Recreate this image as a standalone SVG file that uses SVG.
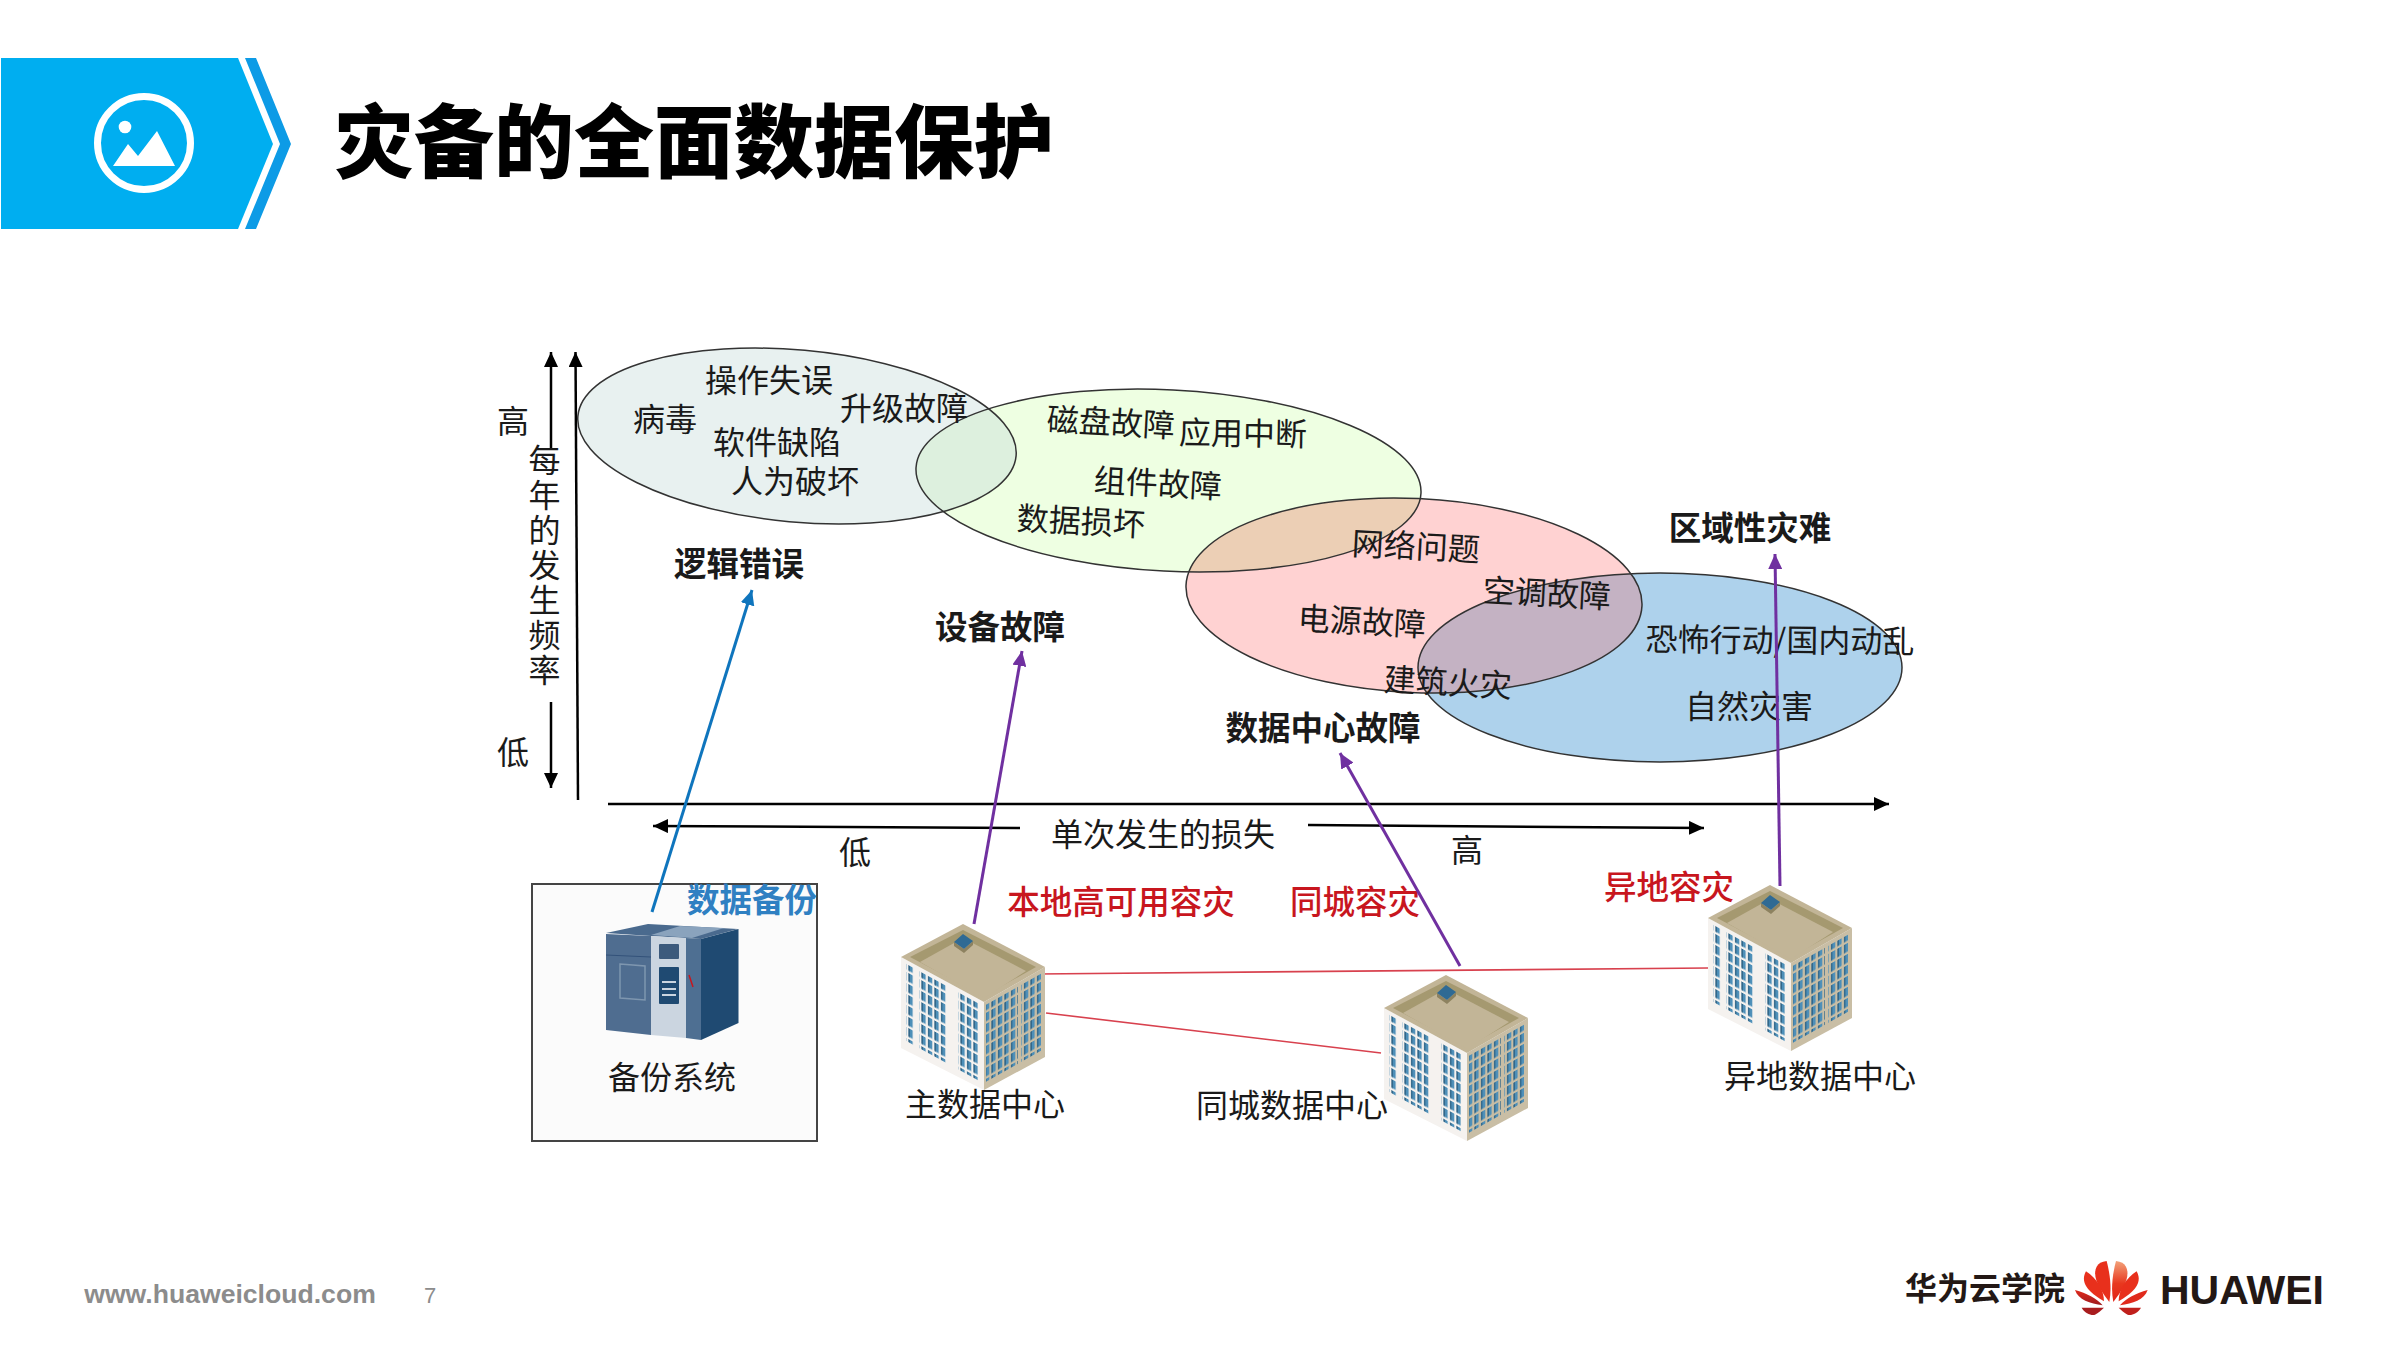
<svg xmlns="http://www.w3.org/2000/svg" xmlns:xlink="http://www.w3.org/1999/xlink" width="2401" height="1350" viewBox="0 0 2401 1350">
<style>
text{font-family:"Noto Sans CJK SC","Liberation Sans",sans-serif;dominant-baseline:central;text-anchor:middle;fill:#1a1a1a}
.r{font-size:32px;font-weight:400}
.b{font-size:32.5px;font-weight:700}
.red{font-size:32.5px;font-weight:500;fill:#c8161e}
.e{stroke:#333;stroke-width:1.5;fill:none}
.ax{stroke:#000;stroke-width:2.5;fill:none}
.rl{stroke:#d8414e;stroke-width:1.6;fill:none}
</style>
<defs>
<marker id="hk" markerUnits="userSpaceOnUse" markerWidth="16" markerHeight="14" refX="15" refY="7" orient="auto"><path d="M0 0L15 7L0 14Z" fill="#000"/></marker>
<marker id="hb" markerUnits="userSpaceOnUse" markerWidth="16" markerHeight="14" refX="15" refY="7" orient="auto"><path d="M0 0L15 7L0 14Z" fill="#0f75bd"/></marker>
<marker id="hp" markerUnits="userSpaceOnUse" markerWidth="16" markerHeight="14" refX="15" refY="7" orient="auto"><path d="M0 0L15 7L0 14Z" fill="#7030a0"/></marker>
<pattern id="win" patternUnits="userSpaceOnUse" width="6.5" height="11"><rect x="1" y="1" width="4.2" height="8.5" fill="#4d8fb8"/><rect x="1" y="1" width="1.3" height="8.5" fill="#2d5f80"/></pattern>
<linearGradient id="pg" x1="0" y1="0" x2="0" y2="1"><stop offset="0" stop-color="#f2a27a"/><stop offset=".55" stop-color="#e8381f"/><stop offset="1" stop-color="#e02518"/></linearGradient>
<linearGradient id="pd" x1="0" y1="0" x2="0" y2="1"><stop offset="0" stop-color="#e02a1c"/><stop offset="1" stop-color="#9c1a1e"/></linearGradient>
<ellipse id="s1" cx="797" cy="436" rx="220" ry="86" transform="rotate(5.2 797 436)"/>
<ellipse id="s2" cx="1168.5" cy="480.5" rx="252.8" ry="90.7" transform="rotate(2.9 1168.5 480.5)"/>
<ellipse id="s3" cx="1414" cy="595.5" rx="228.2" ry="97" transform="rotate(2.6 1414 595.5)"/>
<ellipse id="s4" cx="1660" cy="667.5" rx="242" ry="94.5"/>
<clipPath id="c1"><use href="#s1"/></clipPath>
<clipPath id="c2"><use href="#s2"/></clipPath>
<clipPath id="c3"><use href="#s3"/></clipPath>
<g id="bld">
<polygon points="0,33 83,78 83,166 0,124" fill="#f5f2ef"/>
<polygon points="83,78 144,43 144,133 83,166" fill="#c9bea5"/>
<polygon points="62,0 144,43 83,78 0,33" fill="#c2b597"/>
<polygon points="62,6 135,43 83,72 9,33" fill="#a59970"/>
<polygon points="62,14 125,47 83,74 19,38" fill="#c2b597"/>
<polygon points="53,18 63,25 72,17 72,21 63,29 53,22" fill="#8d8260"/>
<polygon points="62,10 72,17 63,25 53,18" fill="#2f6a94"/>
<g transform="matrix(1 .55 0 1 0 33)" fill="url(#win)">
<rect x="5" y="4" width="8" height="77"/><rect x="18" y="4" width="27" height="77"/><rect x="57" y="4" width="20" height="77"/>
</g>
<g transform="matrix(1 -.565 0 1 83 78)" fill="url(#win)">
<rect x="2" y="4" width="32" height="77"/><rect x="37" y="4" width="20" height="77"/>
</g>
</g>
</defs>
<rect width="2401" height="1350" fill="#fff"/>

<g id="header">
<polygon points="1,58 238,58 273,144 238,229 1,229" fill="#00aef0"/>
<polygon points="245,58 256,58 291,144 256,229 245,229 280,144" fill="#0d9be6"/>
<circle cx="144" cy="143" r="46.5" fill="none" stroke="#fff" stroke-width="7"/>
<circle cx="125" cy="127" r="6.3" fill="#fff"/>
<polygon points="113,166 128,144 138,156 157,131 175,166" fill="#fff"/>
<text x="694" y="136" style="font-size:80px;font-weight:900;fill:#000">灾备的全面数据保护</text>
</g>

<g id="regions">
<use href="#s1" fill="#e8f1f0"/>
<use href="#s2" fill="#eeffe2"/>
<use href="#s3" fill="#ffd2d2"/>
<use href="#s4" fill="#aed2ec"/>
<use href="#s2" fill="#ddf0de" clip-path="url(#c1)"/>
<use href="#s3" fill="#eccfb5" clip-path="url(#c2)"/>
<use href="#s4" fill="#c4b2c3" clip-path="url(#c3)"/>
<use href="#s1" class="e"/><use href="#s2" class="e"/><use href="#s3" class="e"/><use href="#s4" class="e"/>
</g>

<g id="axes">
<line class="ax" x1="551" y1="448" x2="551" y2="352" marker-end="url(#hk)"/>
<line class="ax" x1="551" y1="702" x2="551" y2="788" marker-end="url(#hk)"/>
<line class="ax" x1="578" y1="800" x2="575.5" y2="352" marker-end="url(#hk)"/>
<line class="ax" x1="608" y1="804" x2="1889" y2="804" marker-end="url(#hk)"/>
<line class="ax" x1="1020" y1="828" x2="653" y2="826" marker-end="url(#hk)"/>
<line class="ax" x1="1308" y1="825" x2="1704" y2="828" marker-end="url(#hk)"/>
</g>

<g id="axis-labels">
<text class="r" x="513" y="419">高</text>
<text class="r" x="513" y="750">低</text>
<text class="r" x="544.5" y="444" style="writing-mode:vertical-rl;text-anchor:start;letter-spacing:3px">每年的发生频率</text>
<text class="r" x="1163" y="832">单次发生的损失</text>
<text class="r" x="855" y="850">低</text>
<text class="r" x="1467" y="848">高</text>
</g>

<g id="region-labels">
<text class="r" x="769" y="378">操作失误</text>
<text class="r" x="665" y="417">病毒</text>
<text class="r" x="904" y="406">升级故障</text>
<text class="r" x="777" y="440">软件缺陷</text>
<text class="r" x="795" y="479">人为破坏</text>
<text class="r" x="1111" y="420" transform="rotate(3 1111 420)">磁盘故障</text>
<text class="r" x="1243" y="431" transform="rotate(1 1243 431)">应用中断</text>
<text class="r" x="1158" y="481" transform="rotate(3 1158 481)">组件故障</text>
<text class="r" x="1081" y="519" transform="rotate(3 1081 519)">数据损坏</text>
<text class="r" x="1416" y="544" transform="rotate(3 1416 544)">网络问题</text>
<text class="r" x="1547" y="591" transform="rotate(3 1547 591)">空调故障</text>
<text class="r" x="1362" y="619" transform="rotate(3 1362 619)">电源故障</text>
<text class="r" x="1448" y="680" transform="rotate(3 1448 680)">建筑火灾</text>
<text class="r" x="1780" y="638" transform="rotate(.5 1780 638)">恐怖行动/国内动乱</text>
<text class="r" x="1749" y="704">自然灾害</text>
<text class="b" x="739" y="561">逻辑错误</text>
<text class="b" x="1000" y="624">设备故障</text>
<text class="b" x="1323" y="725">数据中心故障</text>
<text class="b" x="1750" y="525">区域性灾难</text>
</g>

<g id="backup-system">
<rect x="532" y="884" width="285" height="257" fill="#fbfbfb" stroke="#444" stroke-width="2"/>
<polygon points="606,933 648,924 738,929 701,939 651,936" fill="#4a6a8e"/>
<polygon points="651,935 692,938 724,928 680,926" fill="#8aa3bd"/>
<polygon points="606,934 651,936 651,1035 606,1030" fill="#4f6d90"/>
<polygon points="620,964 645,966 645,1000 620,998" fill="none" stroke="#7e96af" stroke-width="1.5"/>
<line x1="606" y1="955" x2="651" y2="957" stroke="#33527a" stroke-width="1"/>
<polygon points="651,936 686,938 686,1038 651,1035" fill="#cbd5e0"/>
<rect x="659" y="944" width="20" height="15" rx="1" fill="#3c5a7c"/>
<rect x="659" y="967" width="20" height="37" rx="1" fill="#1f4a72"/>
<path d="M662 982h14M662 989h14M662 995h14" stroke="#cbd5e0" stroke-width="2"/>
<polygon points="686,938 701,939 701,1040 686,1038" fill="#4e6f92"/>
<line x1="689" y1="975" x2="693" y2="987" stroke="#c8161e" stroke-width="1.5"/>
<polygon points="701,939 738.5,929 738.5,1023 701,1040" fill="#1f4a72"/>
<text class="r" x="672" y="1075">备份系统</text>
<text class="b" x="752" y="897" style="fill:#2f80c2">数据备份</text>
</g>

<g id="connectors">
<line class="rl" x1="1038" y1="974" x2="1708" y2="968"/>
<line class="rl" x1="1046" y1="1013" x2="1381" y2="1053"/>
</g>

<g id="dc-main"><use href="#bld" x="901" y="924"/><text class="r" x="985" y="1102">主数据中心</text></g>
<g id="dc-city"><use href="#bld" x="1384" y="975"/><text class="r" x="1292" y="1103">同城数据中心</text></g>
<g id="dc-remote"><use href="#bld" x="1708" y="885"/><text class="r" x="1820" y="1074">异地数据中心</text></g>

<g id="dr-labels">
<text class="red" x="1121" y="899">本地高可用容灾</text>
<text class="red" x="1355" y="899">同城容灾</text>
<text class="red" x="1669" y="884">异地容灾</text>
</g>

<g id="protection-arrows" fill="none" stroke-width="3">
<line x1="652" y1="912" x2="752" y2="590" stroke="#0f75bd" marker-end="url(#hb)"/>
<line x1="974" y1="924" x2="1022" y2="651" stroke="#7030a0" marker-end="url(#hp)"/>
<line x1="1460" y1="966" x2="1340" y2="753" stroke="#7030a0" marker-end="url(#hp)"/>
<line x1="1780" y1="886" x2="1775" y2="554" stroke="#7030a0" marker-end="url(#hp)"/>
</g>

<g id="footer">
<text x="230" y="1294" style="font-family:'Liberation Sans',sans-serif;font-size:26.6px;font-weight:700;fill:#8c8c8c">www.huaweicloud.com</text>
<text x="430" y="1295" style="font-family:'Liberation Sans',sans-serif;font-size:22px;fill:#8c8c8c">7</text>
<text x="1985" y="1286" style="font-size:32px;font-weight:700;fill:#231815">华为云学院</text>
<text x="2242" y="1290" style="font-family:'Liberation Sans',sans-serif;font-size:41px;font-weight:700;fill:#231815">HUAWEI</text>
<g transform="translate(1880 1240) scale(.3333)">
<g id="petals-l">
<path d="M688 186C660 150 635 110 650 80C655 70 665 65 680 63C692 110 695 150 688 186Z" fill="#e8301c"/>
<path d="M672 184C640 165 595 135 618 94C650 115 672 150 672 184Z" fill="#e8301c"/>
<path d="M668 196C630 190 595 180 585 150C620 160 650 175 668 196Z" fill="url(#pd)"/>
<path d="M672 203L605 203C615 220 635 228 645 224C655 218 665 210 672 203Z" fill="#a81c1e"/>
</g>
<path d="M700 186C728 150 753 110 738 80C733 70 723 65 708 63C696 110 693 150 700 186Z" fill="url(#pg)"/>
<path d="M716 184C748 165 793 135 770 94C738 115 716 150 716 184Z" fill="#e8301c"/>
<path d="M720 196C758 190 793 180 803 150C768 160 738 175 720 196Z" fill="#e02a1c"/>
<path d="M716 203L783 203C773 220 753 228 743 224C733 218 723 210 716 203Z" fill="#c0201c"/>
</g>
</g>
</svg>
